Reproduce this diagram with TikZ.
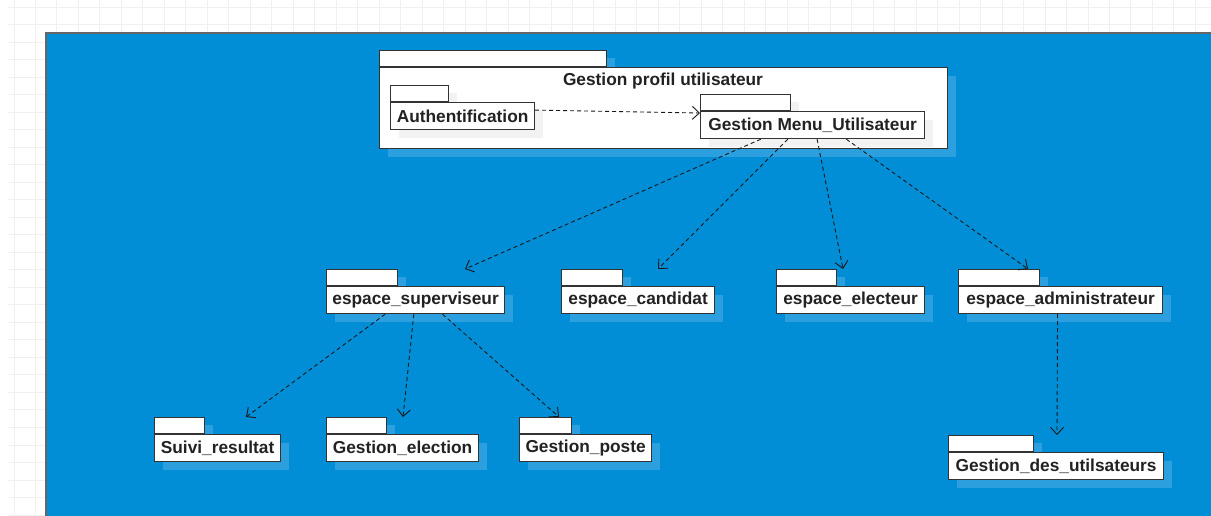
\documentclass[tikz,border=0pt]{standalone}
\usepackage{fontspec}
\setmainfont{Liberation Sans}
\usetikzlibrary{arrows.meta,shadows,calc}

\definecolor{diagblue}{RGB}{2,142,214}
\definecolor{shadeblue}{RGB}{44,160,222}
\definecolor{pkgline}{RGB}{51,51,51}
\definecolor{pkgtext}{RGB}{34,34,34}
\definecolor{gridgray}{RGB}{240,240,240}

\tikzset{
  pkgbox/.style={draw=pkgline, fill=white, line width=1.2pt, inner sep=0pt,
    minimum height=27pt, anchor=north west, text=pkgtext,
    font=\bfseries\fontsize{17.3}{20}\selectfont,
    drop shadow={shadow xshift=8pt, shadow yshift=-8pt, fill=#1, opacity=1}},
  pkgbox/.default=shadeblue,
  pkgtab/.style={draw=pkgline, fill=white, line width=1.2pt, inner sep=0pt,
    minimum height=16pt, anchor=south west,
    drop shadow={shadow xshift=8pt, shadow yshift=-8pt, fill=#1, opacity=1}},
  pkgtab/.default=shadeblue,
  dep/.style={draw=black!90, line width=0.9pt, dash pattern=on 4pt off 3pt,
    -{Straight Barb[length=7pt,width=13pt]}}
}

\begin{document}
\begin{tikzpicture}[x=1pt,y=-1pt]
\useasboundingbox (0,0) rectangle (1211,515);
\clip (0,0) rectangle (1211,515);

% grid of the canvas
\foreach \k in {0,...,56}
  \draw[gridgray, line width=1pt] ({14+21.48*\k},0) -- ++(0,515);
\foreach \k in {0,...,29}
  \draw[gridgray, line width=1pt] (8,{7+17.52*\k}) -- (1211,{7+17.52*\k});

% page
\draw[draw=black!60, fill=diagblue, line width=1.5pt] (46,33) rectangle (1220,525);

% outer package
\coordinate (gpu-c) at (379,67);
\node[pkgtab, minimum width=227pt] (gpu-tab) at (gpu-c) {};
\node[pkgbox, minimum width=568pt, minimum height=81pt] (gpu) at (gpu-c) {};
\node[text=pkgtext, font=\bfseries\fontsize{17.3}{20}\selectfont] (gpu-title) at (663,81) {Gestion profil utilisateur};

% packages inside
\foreach \n/\x/\y/\w/\tw/\l in {auth/390/102/144/58/Authentification,
    gmu/700/111/224/90/Gestion Menu\_Utilisateur} {
  \coordinate (\n-c) at (\x,\y);
  \node[pkgtab=black!5, minimum width=\tw pt] (\n-tab) at (\n-c) {};
  \node[pkgbox=black!5, minimum width=\w pt] (\n) at (\n-c) {\l};
}

% packages on the page
\foreach \n/\x/\y/\w/\tw/\l in {sup/326/286/178/71/espace\_superviseur,
    cand/561/286/153/61/espace\_candidat,
    elec/776/286/148/60/espace\_electeur,
    adm/958/286/204/81/espace\_administrateur,
    suivi/154/434/126/50/Suivi\_resultat,
    gel/326/434/152/60/Gestion\_election,
    gpo/519/434/132/52/Gestion\_poste,
    gdu/948/452/215/85/Gestion\_des\_utilsateurs} {
  \coordinate (\n-c) at (\x,\y);
  \node[pkgtab, minimum width=\tw pt] (\n-tab) at (\n-c) {};
  \node[pkgbox, minimum width=\w pt] (\n) at (\n-c) {\l};
}

% arrow ends
\coordinate (auth-in) at (700,113);
\coordinate (sup-in) at (465,269);
\coordinate (cand-in) at (658,269);
\coordinate (elec-in) at (843,269);
\coordinate (adm-in) at (1028,269);
\coordinate (suivi-in) at (246,417);
\coordinate (gel-in) at (403,417);
\coordinate (gpo-in) at (559,417);
\coordinate (gdu-in) at (1057,435);

% dependencies
\draw[dep] ($(auth.east)+(0,-6)$) -- (auth-in);
\draw[dep] ($(gmu.south west)!.27!(gmu.south east)$) -- (sup-in);
\draw[dep] ($(gmu.south west)!.39!(gmu.south east)$) -- (cand-in);
\draw[dep] ($(gmu.south west)!.52!(gmu.south east)$) -- (elec-in);
\draw[dep] ($(gmu.south west)!.65!(gmu.south east)$) -- (adm-in);
\draw[dep] ($(sup.south west)!.33!(sup.south east)$) -- (suivi-in);
\draw[dep] ($(sup.south west)!.49!(sup.south east)$) -- (gel-in);
\draw[dep] ($(sup.south west)!.65!(sup.south east)$) -- (gpo-in);
\draw[dep] ($(adm.south west)!.485!(adm.south east)$) -- (gdu-in);
\end{tikzpicture}
\end{document}
